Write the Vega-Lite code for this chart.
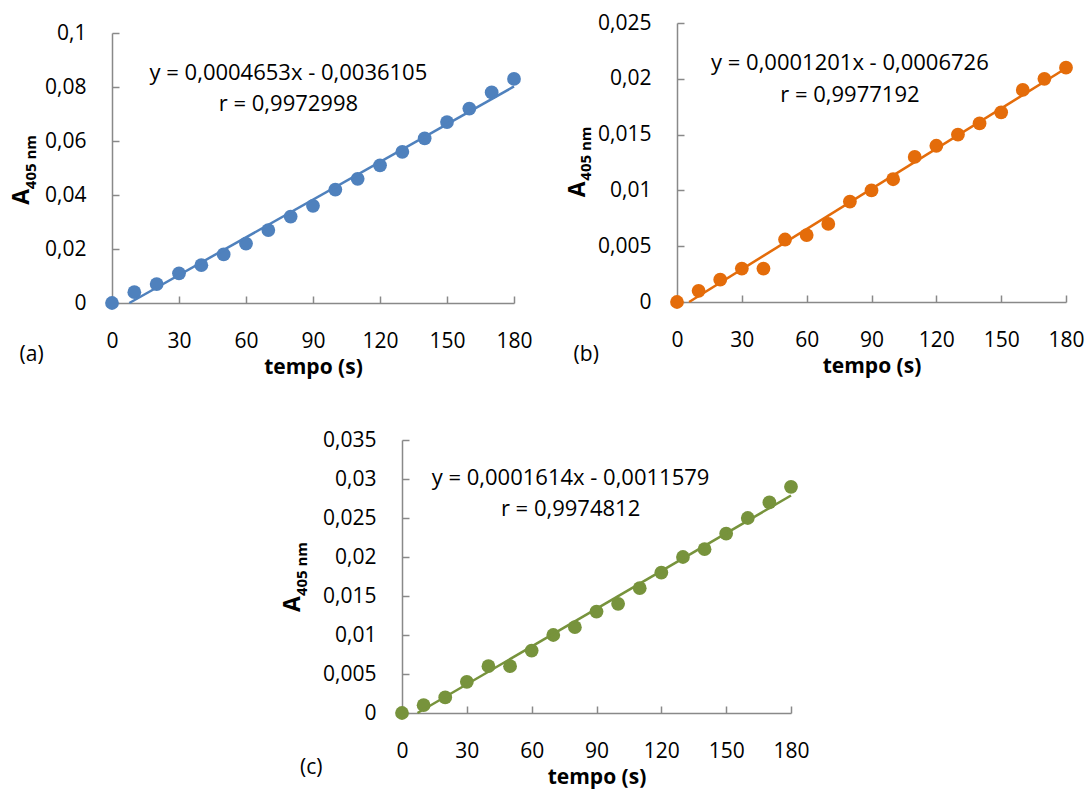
{
  "$schema": "https://vega.github.io/schema/vega-lite/v6.json",
  "width": 1090,
  "height": 789,
  "autosize": {"type": "fit", "contains": "padding"},
  "padding": 0,
  "background": "white",
  "config": {
    "view": {"stroke": null},
    "font": "Open Sans",
    "axis": {
      "grid": false,
      "domainColor": "#898989",
      "tickColor": "#898989",
      "domainWidth": 1.5,
      "tickWidth": 1.5,
      "tickSize": -7,
      "labelFont": "Open Sans",
      "labelFontSize": 21,
      "labelColor": "#000000",
      "titleFont": "Open Sans",
      "titleFontSize": 21,
      "titleFontWeight": "bold",
      "titleColor": "#000000",
      "labelOverlap": false,
      "labelFlush": false
    },
    "axisX": {"labelPadding": 34, "titleY": 64, "titleBaseline": "middle"},
    "axisY": {"labelPadding": 33, "title": null, "labelExpr": "replace(format(datum.value, '~g'), '.', ',')"},
    "text": {"font": "Open Sans", "color": "#000000"}
  },
  "layer": [
    {
      "encoding": {
        "x": {"field": "t", "type": "quantitative",
          "scale": {"domain": [0, 180], "range": [112, 514], "nice": false, "zero": false},
          "axis": {"orient": "bottom", "offset": -486, "values": [0, 30, 60, 90, 120, 150, 180], "title": "tempo (s)"}},
        "y": {"field": "A", "type": "quantitative",
          "scale": {"domain": [0, 0.1], "range": [303, 33], "nice": false, "zero": false},
          "axis": {"orient": "left", "offset": -112, "values": [0, 0.02, 0.04, 0.06, 0.08, 0.1], "title": null}}
      },
      "layer": [
        {
          "data": {"values": [
            {"t": 0, "A": 0}, {"t": 10, "A": 0.004}, {"t": 20, "A": 0.007}, {"t": 30, "A": 0.011},
            {"t": 40, "A": 0.014}, {"t": 50, "A": 0.018}, {"t": 60, "A": 0.022}, {"t": 70, "A": 0.027},
            {"t": 80, "A": 0.032}, {"t": 90, "A": 0.036}, {"t": 100, "A": 0.042}, {"t": 110, "A": 0.046},
            {"t": 120, "A": 0.051}, {"t": 130, "A": 0.056}, {"t": 140, "A": 0.061}, {"t": 150, "A": 0.067},
            {"t": 160, "A": 0.072}, {"t": 170, "A": 0.078}, {"t": 180, "A": 0.083}
          ]},
          "mark": {"type": "circle", "size": 190, "opacity": 1, "color": "#4F81BD"}
        },
        {
          "data": {"values": [{"t": 7.76, "A": 0}, {"t": 180, "A": 0.0802}]},
          "mark": {"type": "line", "color": "#4F81BD", "strokeWidth": 2.5},
          "encoding": {}
        },
        {
          "data": {"values": [
            {"t": 79, "A": 0.0852, "label": "y = 0,0004653x - 0,0036105"},
            {"t": 79, "A": 0.0737, "label": "r = 0,9972998"}
          ]},
          "mark": {"type": "text", "fontSize": 22, "align": "center", "baseline": "middle"},
          "encoding": {"text": {"field": "label"}}
        },
        {
          "data": {"values": [{"t": -36, "A": -0.0193, "label": "(a)"}]},
          "mark": {"type": "text", "fontSize": 21, "align": "center", "baseline": "middle"},
          "encoding": {"text": {"field": "label"}}
        },
        {
          "data": {"values": [{"t": -40.3, "A": 0.0393, "label": "A"}]},
          "mark": {"type": "text", "fontSize": 23, "fontWeight": "bold", "angle": 270, "align": "center", "baseline": "middle"},
          "encoding": {"text": {"field": "label"}}
        },
        {
          "data": {"values": [{"t": -36.2, "A": 0.0522, "label": "405 nm"}]},
          "mark": {"type": "text", "fontSize": 15, "fontWeight": "bold", "angle": 270, "align": "center", "baseline": "middle"},
          "encoding": {"text": {"field": "label"}}
        }
      ]
    },
    {
      "encoding": {
        "x": {"field": "t", "type": "quantitative",
          "scale": {"domain": [0, 180], "range": [677, 1066], "nice": false, "zero": false},
          "axis": {"orient": "bottom", "offset": -487, "values": [0, 30, 60, 90, 120, 150, 180], "title": "tempo (s)"}},
        "y": {"field": "A", "type": "quantitative",
          "scale": {"domain": [0, 0.025], "range": [302, 23], "nice": false, "zero": false},
          "axis": {"orient": "left", "offset": -677, "values": [0, 0.005, 0.01, 0.015, 0.02, 0.025], "title": null}}
      },
      "layer": [
        {
          "data": {"values": [
            {"t": 0, "A": 0}, {"t": 10, "A": 0.001}, {"t": 20, "A": 0.002}, {"t": 30, "A": 0.003},
            {"t": 40, "A": 0.003}, {"t": 50, "A": 0.0056}, {"t": 60, "A": 0.006}, {"t": 70, "A": 0.007},
            {"t": 80, "A": 0.009}, {"t": 90, "A": 0.01}, {"t": 100, "A": 0.011}, {"t": 110, "A": 0.013},
            {"t": 120, "A": 0.014}, {"t": 130, "A": 0.015}, {"t": 140, "A": 0.016}, {"t": 150, "A": 0.017},
            {"t": 160, "A": 0.019}, {"t": 170, "A": 0.02}, {"t": 180, "A": 0.021}
          ]},
          "mark": {"type": "circle", "size": 190, "opacity": 1, "color": "#E46C0A"}
        },
        {
          "data": {"values": [{"t": 5.6, "A": 0}, {"t": 180, "A": 0.02095}]},
          "mark": {"type": "line", "color": "#E46C0A", "strokeWidth": 2.5},
          "encoding": {}
        },
        {
          "data": {"values": [
            {"t": 80, "A": 0.0214, "label": "y = 0,0001201x - 0,0006726"},
            {"t": 80, "A": 0.01855, "label": "r = 0,9977192"}
          ]},
          "mark": {"type": "text", "fontSize": 22, "align": "center", "baseline": "middle"},
          "encoding": {"text": {"field": "label"}}
        },
        {
          "data": {"values": [{"t": -42, "A": -0.00475, "label": "(b)"}]},
          "mark": {"type": "text", "fontSize": 21, "align": "center", "baseline": "middle"},
          "encoding": {"text": {"field": "label"}}
        },
        {
          "data": {"values": [{"t": -46, "A": 0.0101, "label": "A"}]},
          "mark": {"type": "text", "fontSize": 23, "fontWeight": "bold", "angle": 270, "align": "center", "baseline": "middle"},
          "encoding": {"text": {"field": "label"}}
        },
        {
          "data": {"values": [{"t": -41.9, "A": 0.0133, "label": "405 nm"}]},
          "mark": {"type": "text", "fontSize": 15, "fontWeight": "bold", "angle": 270, "align": "center", "baseline": "middle"},
          "encoding": {"text": {"field": "label"}}
        }
      ]
    },
    {
      "encoding": {
        "x": {"field": "t", "type": "quantitative",
          "scale": {"domain": [0, 180], "range": [402, 791], "nice": false, "zero": false},
          "axis": {"orient": "bottom", "offset": -76, "values": [0, 30, 60, 90, 120, 150, 180], "title": "tempo (s)"}},
        "y": {"field": "A", "type": "quantitative",
          "scale": {"domain": [0, 0.035], "range": [713, 440], "nice": false, "zero": false},
          "axis": {"orient": "left", "offset": -402, "values": [0, 0.005, 0.01, 0.015, 0.02, 0.025, 0.03, 0.035], "title": null}}
      },
      "layer": [
        {
          "data": {"values": [
            {"t": 0, "A": 0}, {"t": 10, "A": 0.001}, {"t": 20, "A": 0.002}, {"t": 30, "A": 0.004},
            {"t": 40, "A": 0.006}, {"t": 50, "A": 0.006}, {"t": 60, "A": 0.008}, {"t": 70, "A": 0.01},
            {"t": 80, "A": 0.011}, {"t": 90, "A": 0.013}, {"t": 100, "A": 0.014}, {"t": 110, "A": 0.016},
            {"t": 120, "A": 0.018}, {"t": 130, "A": 0.02}, {"t": 140, "A": 0.021}, {"t": 150, "A": 0.023},
            {"t": 160, "A": 0.025}, {"t": 170, "A": 0.027}, {"t": 180, "A": 0.029}
          ]},
          "mark": {"type": "circle", "size": 190, "opacity": 1, "color": "#77933C"}
        },
        {
          "data": {"values": [{"t": 7.17, "A": 0}, {"t": 180, "A": 0.02789}]},
          "mark": {"type": "line", "color": "#77933C", "strokeWidth": 2.5},
          "encoding": {}
        },
        {
          "data": {"values": [
            {"t": 78, "A": 0.0301, "label": "y = 0,0001614x - 0,0011579"},
            {"t": 78, "A": 0.02615, "label": "r = 0,9974812"}
          ]},
          "mark": {"type": "text", "fontSize": 22, "align": "center", "baseline": "middle"},
          "encoding": {"text": {"field": "label"}}
        },
        {
          "data": {"values": [{"t": -42, "A": -0.00705, "label": "(c)"}]},
          "mark": {"type": "text", "fontSize": 21, "align": "center", "baseline": "middle"},
          "encoding": {"text": {"field": "label"}}
        },
        {
          "data": {"values": [{"t": -50.4, "A": 0.01397, "label": "A"}]},
          "mark": {"type": "text", "fontSize": 23, "fontWeight": "bold", "angle": 270, "align": "center", "baseline": "middle"},
          "encoding": {"text": {"field": "label"}}
        },
        {
          "data": {"values": [{"t": -46.3, "A": 0.01846, "label": "405 nm"}]},
          "mark": {"type": "text", "fontSize": 15, "fontWeight": "bold", "angle": 270, "align": "center", "baseline": "middle"},
          "encoding": {"text": {"field": "label"}}
        }
      ]
    }
  ],
  "resolve": {
    "scale": {"x": "independent", "y": "independent"},
    "axis": {"x": "independent", "y": "independent"}
  }
}
